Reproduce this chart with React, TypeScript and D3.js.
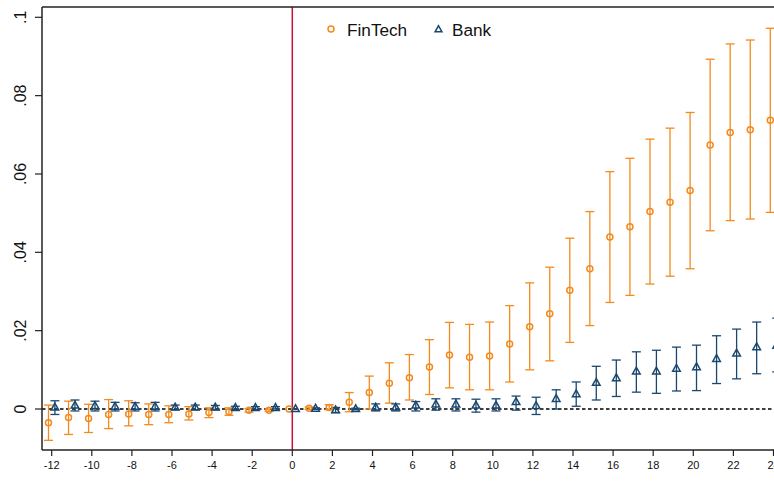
import React from "react";
import * as d3 from "d3";

const periods = [-12,-11,-10,-9,-8,-7,-6,-5,-4,-3,-2,-1,0,1,2,3,4,5,6,7,8,9,10,11,12,13,14,15,16,17,18,19,20,21,22,23,24];

const fintechCoef = [-0.0035,-0.0022,-0.0024,-0.0014,-0.0013,-0.0014,-0.0014,-0.0013,-0.0009,-0.0007,-0.0003,-0.0003,0,0.0002,0.0004,0.0017,0.0042,0.0066,0.008,0.0107,0.0138,0.0132,0.0135,0.0166,0.021,0.0243,0.0303,0.0358,0.0439,0.0465,0.0504,0.0528,0.0558,0.0674,0.0706,0.0713,0.0737];
const fintechLo = [-0.008,-0.0065,-0.006,-0.005,-0.0043,-0.004,-0.0035,-0.0028,-0.0022,-0.0016,-0.0008,-0.0006,null,-0.0001,-0.0002,-0.0007,0.0,0.0015,0.0023,0.0037,0.0054,0.0049,0.0049,0.0069,0.01,0.0123,0.017,0.0213,0.0272,0.029,0.0319,0.0339,0.0358,0.0455,0.0481,0.0485,0.0502];
const fintechHi = [0.001,0.002,0.0012,0.0024,0.0021,0.0013,0.0008,0.0006,0.0003,0.0003,0.0001,0.0,null,0.0005,0.0011,0.0042,0.0084,0.0118,0.0139,0.0177,0.0221,0.0216,0.0222,0.0264,0.0322,0.0362,0.0436,0.0504,0.0606,0.064,0.0689,0.0717,0.0757,0.0893,0.0932,0.0942,0.0972];

const bankCoef = [0.0004,0.0009,0.0008,0.0006,0.0006,0.0006,0.0004,0.0004,0.0004,0.0003,0.0003,0.0003,0,0.0001,-0.0003,0.0,0.0004,0.0004,0.0009,0.0012,0.0012,0.0009,0.0009,0.0018,0.0008,0.0026,0.0038,0.0067,0.0079,0.0096,0.0096,0.0103,0.0107,0.0128,0.0142,0.0158,0.0162];
const bankLo = [-0.0014,-0.0005,-0.0005,-0.0005,-0.0005,-0.0005,-0.0002,-0.0002,-0.0002,-0.0001,-0.0001,0.0,null,-0.0001,-0.0009,-0.0002,-0.0005,-0.0005,-0.0005,-0.0003,-0.0005,-0.0008,-0.0005,-0.0003,-0.0014,0.0,0.0007,0.0023,0.0032,0.0043,0.004,0.0046,0.0047,0.0065,0.0077,0.009,0.0095];
const bankHi = [0.0021,0.0023,0.002,0.0017,0.0016,0.0017,0.001,0.001,0.0009,0.0007,0.0006,0.0006,null,0.0003,0.0004,0.0002,0.0013,0.0013,0.0019,0.0026,0.0026,0.0025,0.0026,0.0033,0.003,0.0049,0.0069,0.0109,0.0125,0.0146,0.015,0.0158,0.0163,0.0187,0.0204,0.0222,0.0232];

const xTicks = [-12,-10,-8,-6,-4,-2,0,2,4,6,8,10,12,14,16,18,20,22,24];
const yTicks = [0, 0.02, 0.04, 0.06, 0.08, 0.1];
const yTickLabels = ["0", ".02", ".04", ".06", ".08", ".1"];
const seriesNames = ["FinTech", "Bank"];

const W = 774, H = 493;
const ORANGE = "#f28a1e";
const NAVY = "#1a476f";
const RED = "#cc0f35";
const AXIS = "#222";
const FONT = "'Liberation Sans', Arial, Helvetica, sans-serif";

export default function App() {
  const x = d3.scaleLinear().domain([-12, 0]).range([51.7, 292.3]);
  const y = d3.scaleLinear().domain([0, 0.1]).range([409, 17.3]);
  const left = 42, top = 7, bottom = 450;
  const off = 0.16;
  const cap = 4.5;

  const tri = (cx: number, cy: number, s = 1) =>
    `M${cx},${cy - 4.2 * s}L${cx - 3.8 * s},${cy + 2.6 * s}L${cx + 3.8 * s},${cy + 2.6 * s}Z`;

  const errBars = (lo: (number | null)[], hi: (number | null)[], dx: number, color: string, key: string) =>
    periods.map((p, i) => {
      const l = lo[i], h = hi[i];
      if (l === null || h === null) return null;
      const cx = x(p + dx);
      return (
        <g key={key + i} stroke={color} strokeWidth={1.3} fill="none">
          <line x1={cx} x2={cx} y1={y(l)} y2={y(h)} />
          <line x1={cx - cap} x2={cx + cap} y1={y(l)} y2={y(l)} />
          <line x1={cx - cap} x2={cx + cap} y1={y(h)} y2={y(h)} />
        </g>
      );
    });

  return (
    <svg width={W} height={H} style={{ position: "absolute", left: 0, top: 0, background: "#fff" }} fontFamily={FONT}>
      <rect x={0} y={0} width={W} height={H} fill="#fff" />
      <line x1={left} x2={W} y1={y(0)} y2={y(0)} stroke="#000" strokeWidth={1.4} strokeDasharray="3.5,2.5" />
      <line x1={x(0)} x2={x(0)} y1={top} y2={bottom} stroke={RED} strokeWidth={1.5} />
      {errBars(fintechLo, fintechHi, -off, ORANGE, "fe")}
      {errBars(bankLo, bankHi, off, NAVY, "be")}
      {periods.map((p, i) => (
        <circle key={"fc" + i} cx={x(p - off)} cy={y(fintechCoef[i])} r={3} fill="none" stroke={ORANGE} strokeWidth={1.5} />
      ))}
      {periods.map((p, i) => (
        <path key={"bt" + i} d={tri(x(p + off), y(bankCoef[i]))} fill="none" stroke={NAVY} strokeWidth={1.5} />
      ))}
      <line x1={left} x2={W} y1={top} y2={top} stroke={AXIS} strokeWidth={1.5} />
      <line x1={left} x2={left} y1={top} y2={bottom} stroke={AXIS} strokeWidth={1.5} />
      <line x1={left} x2={W} y1={bottom} y2={bottom} stroke={AXIS} strokeWidth={1.5} />
      {yTicks.map((t, i) => (
        <g key={"yt" + i}>
          <line x1={left - 7} x2={left} y1={y(t)} y2={y(t)} stroke={AXIS} strokeWidth={1.2} />
          <text transform={`translate(26,${y(t)}) rotate(-90)`} textAnchor="middle" fontSize={16} fill="#111">
            {yTickLabels[i]}
          </text>
        </g>
      ))}
      {xTicks.map((t, i) => (
        <g key={"xt" + i}>
          <line x1={x(t)} x2={x(t)} y1={bottom} y2={bottom + 6} stroke={AXIS} strokeWidth={1.2} />
          <text x={x(t)} y={469} textAnchor="middle" fontSize={11} fill="#111">
            {String(t)}
          </text>
        </g>
      ))}
      <circle cx={331} cy={29} r={3} fill="none" stroke={ORANGE} strokeWidth={1.5} />
      <text x={347} y={35.5} fontSize={17.2} fill="#111">{seriesNames[0]}</text>
      <path d={tri(438.5, 29.5, 0.9)} fill="none" stroke={NAVY} strokeWidth={1.5} />
      <text x={452} y={35.5} fontSize={17.2} fill="#111">{seriesNames[1]}</text>
    </svg>
  );
}
